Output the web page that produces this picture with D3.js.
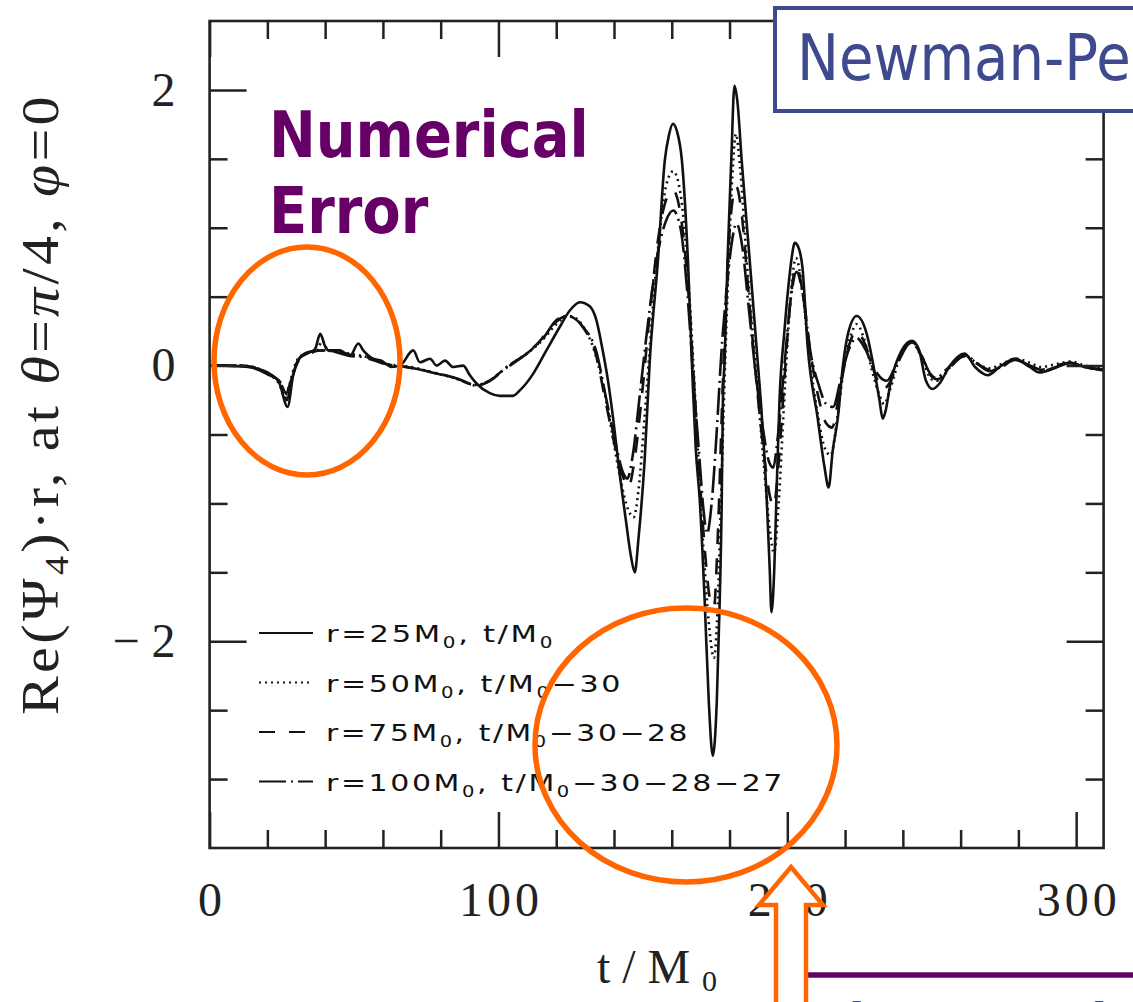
<!DOCTYPE html>
<html lang="en">
<head>
    <meta charset="utf-8">
    <title>Re(Psi4) waveform</title>
    <script src="https://cdn.jsdelivr.net/npm/d3@7"></script>
    <style>
      body { margin: 0; background: #fff; }
      .curve { fill: none; stroke: #111; stroke-width: 2.6px; }
      .tick line { stroke: #222; stroke-width: 2.5px; }
      .ticklab text { font-family: "Liberation Serif", serif; font-size: 48px; fill: #222; letter-spacing: 4px; }
      .legend text { font-family: "DejaVu Sans", sans-serif; font-size: 23px; fill: #111; letter-spacing: 2px; }
    </style>
</head>
<body>
<svg width="1133" height="1002"></svg>

<script>
// t/M0 and Re(Psi4)*r, one array per extraction radius
var r25 = [[0,0],[5,0],[10,-0.005],[15,-0.015],[20,-0.05],[24,-0.12],[27,-0.30],[29,-0.06],[31,0.05],[34,0.09],[36.5,0.12],[38.3,0.23],[40,0.14],[41.1,0.11],[45,0.11],[48.6,0.07],[51.5,0.16],[53.2,0.11],[56.6,0.05],[59.5,0.036],[63,-0.01],[65.9,0],[70.5,0.11],[72.8,0.024],[76.3,0.05],[78.6,0],[81.5,0.036],[84.3,-0.01],[87.8,0],[90.1,-0.07],[92.4,-0.13],[97,-0.2],[100.5,-0.22],[105,-0.22],[107.4,-0.18],[112,-0.06],[116.6,0.11],[121.2,0.28],[124.7,0.40],[128.2,0.46],[131.6,0.43],[133.9,0.33],[136,0.12],[138,-0.12],[139.8,-0.4],[141.7,-0.74],[144.1,-1.12],[146,-1.4],[147.2,-1.5],[148.5,-1.25],[150.6,-0.69],[152.4,0.04],[155.2,0.76],[157.6,1.49],[159,1.67],[160.4,1.755],[161.8,1.7],[163.5,1.49],[165.6,0.76],[167.2,-0.1],[168.3,-0.6],[169.7,-0.98],[171.4,-1.71],[172.8,-2.43],[174.2,-2.83],[175.6,-2.43],[176.6,-1.71],[177.3,-0.98],[177.7,-0.25],[178.3,0.04],[179.3,0.76],[180.6,1.49],[181.7,2.03],[182.7,1.92],[184.2,1.49],[187,0.76],[189.7,0.04],[190.8,-0.25],[192.9,-0.98],[193.9,-1.47],[194.5,-1.79],[195.5,-1.47],[196.2,-0.98],[197.3,-0.25],[199,0.25],[200.5,0.6],[201.5,0.78],[202.6,0.89],[203.8,0.86],[205.3,0.7],[207,0.15],[210.5,-0.38],[212.9,-0.74],[214.3,-0.885],[215.7,-0.62],[217.5,-0.38],[219.2,-0.01],[221,0.23],[224,0.36],[227.5,0.23],[229.9,-0.01],[231.9,-0.25],[233,-0.385],[234,-0.33],[235.7,-0.13],[239.6,0.11],[243.1,0.18],[245.5,0.12],[248,-0.11],[250.3,-0.17],[252.7,-0.13],[256,-0.01],[261.4,0.087],[265,-0.01],[269.4,-0.07],[273.5,-0.01],[278.7,0.05],[283.9,-0.01],[287.3,-0.05],[292.5,-0.02],[297.7,0.02],[302.9,-0.01],[309.5,-0.035]];

var r50 = [[0,0],[10,0],[15,-0.01],[20,-0.06],[24,-0.13],[26,-0.22],[27.5,-0.15],[29,-0.03],[31,0.06],[34,0.09],[37,0.1],[39,0.18],[41,0.11],[45,0.1],[50,0.08],[55,0.06],[60,0.02],[65,0.0],[70,-0.01],[77,-0.05],[85,-0.09],[92,-0.14],[96,-0.12],[100,-0.06],[105,0.02],[110,0.09],[115,0.18],[120,0.3],[124,0.36],[127,0.34],[130,0.26],[133,0.12],[136,-0.12],[139,-0.45],[142,-0.8],[145,-1.05],[146.8,-1.1],[148.5,-0.9],[150.5,-0.4],[153,0.3],[155.5,0.9],[158,1.3],[160.5,1.41],[163,1.25],[165.5,0.7],[167.5,0.0],[169.5,-0.8],[171.5,-1.5],[173.2,-1.95],[174.6,-2.12],[175.8,-1.8],[177,-1.0],[178.3,-0.1],[179.6,0.7],[180.9,1.35],[182.2,1.68],[183.6,1.45],[186,0.75],[189,0.0],[191.8,-0.7],[194,-1.2],[195.4,-1.36],[197,-1.0],[198.8,-0.3],[200.8,0.4],[203,0.78],[205.2,0.55],[207.5,0.1],[210.5,-0.35],[213,-0.6],[215,-0.65],[217.5,-0.35],[220,0.05],[222,0.22],[224,0.3],[226.5,0.2],[229.5,-0.05],[232,-0.22],[233.5,-0.28],[235.5,-0.18],[239,0.06],[243,0.17],[246.5,0.06],[250,-0.1],[252.5,-0.11],[256,-0.02],[261.5,0.07],[265.5,0.02],[270,-0.02],[275,0.02],[279,0.05],[284,0.02],[288,-0.01],[293,0.01],[298,0.03],[303,0.0],[309.5,-0.02]];

var r75 = [[0,0],[10,0],[15,-0.01],[20,-0.06],[24.5,-0.12],[26.8,-0.25],[28.5,-0.1],[30,0.0],[32,0.07],[35,0.1],[40,0.11],[45,0.1],[50,0.07],[55,0.05],[61,0.01],[68,-0.01],[77,-0.05],[86,-0.1],[92,-0.14],[97,-0.11],[102,-0.03],[108,0.06],[114,0.17],[119,0.3],[123,0.355],[126.5,0.34],[129.5,0.27],[133.5,0.1],[137,-0.25],[140.5,-0.6],[143,-0.8],[145,-0.88],[147,-0.7],[149.5,-0.25],[152.5,0.4],[155.5,0.95],[158,1.2],[160.5,1.27],[163,1.1],[165.5,0.6],[167.5,-0.05],[169.5,-0.75],[171.5,-1.35],[173.3,-1.7],[174.6,-1.75],[176,-1.2],[177.4,-0.3],[178.8,0.5],[180.3,1.05],[182.3,1.3],[184.2,1.1],[186.5,0.55],[189,-0.05],[191.7,-0.6],[194,-0.95],[195.3,-1.02],[197,-0.7],[199,-0.1],[201,0.45],[203.2,0.72],[205.4,0.52],[208,0.1],[211,-0.25],[213.5,-0.42],[215.5,-0.45],[218,-0.2],[221,0.12],[224,0.25],[227,0.15],[230,-0.04],[233.2,-0.17],[235,-0.14],[238.5,0.03],[243,0.17],[246.5,0.07],[250,-0.08],[252,-0.1],[256,-0.02],[261.5,0.07],[266,0.01],[270,-0.03],[275,0.0],[279,0.05],[284,0.0],[288,-0.03],[293,0.0],[298,0.02],[303,-0.01],[309.5,-0.03]];

var r100 = [[0,0],[10,0],[14,-0.01],[19.8,-0.06],[24.4,-0.12],[26.5,-0.2],[28,-0.12],[29.5,-0.02],[31.3,0.06],[34.7,0.1],[40.5,0.11],[48.6,0.07],[54.4,0.06],[61.3,0.01],[68.2,-0.01],[77.4,-0.05],[86.6,-0.1],[92.4,-0.145],[97,-0.11],[102.8,-0.01],[109.7,0.085],[115.5,0.2],[120.1,0.33],[123.6,0.36],[126.5,0.34],[129.3,0.28],[133.9,0.1],[137.4,-0.25],[140.9,-0.6],[143.2,-0.78],[144.6,-0.82],[146.5,-0.65],[149,-0.2],[152,0.35],[155,0.8],[158,1.05],[160.5,1.125],[163,1.0],[165.5,0.5],[167.5,-0.1],[169.5,-0.65],[171,-1.05],[172.2,-1.22],[173.8,-1.0],[175.5,-0.5],[177.2,0.1],[179,0.55],[180.5,0.85],[182.4,1.03],[184.5,0.85],[186.5,0.45],[189,-0.05],[191.5,-0.45],[193.7,-0.7],[195.1,-0.74],[196.8,-0.5],[199,0.0],[201,0.45],[203.2,0.68],[205.5,0.5],[208,0.1],[211,-0.15],[213.5,-0.28],[215.8,-0.3],[218.5,-0.1],[221,0.1],[224,0.2],[227,0.12],[230,-0.02],[233,-0.1],[234.5,-0.11],[237.5,0.0],[240.5,0.12],[243.3,0.17],[246.5,0.07],[249.5,-0.06],[251.5,-0.09],[255,-0.03],[260,0.06],[262,0.07],[266,0.01],[270,-0.04],[274,-0.01],[279,0.04],[284,0.0],[288,-0.04],[293,-0.01],[298,0.02],[303,-0.01],[309.5,-0.03]];

var xMajor = [0, 100, 200, 300];
var xMinor = [20, 40, 60, 80, 120, 140, 160, 180, 220, 240, 260, 280];
var yMajor = [-2, 0, 2];
var yMinor = [-3, -2.5, -1.5, -1, -0.5, 0.5, 1, 1.5];

var legendRadii = ["25", "50", "75", "100"];
var legendShift = ["", "\u221230", "\u221230\u221228", "\u221230\u221228\u221227"];
var dashes = [null, "2,4", "16,14", "27,5,2,5"];
var series = [r25, r50, r75, r100];

var svg = d3.select("svg");

var x = d3.scaleLinear().domain([0, 309.5]).range([209.6, 1103.6]);
var y = d3.scaleLinear().domain([-3.5, 2.5]).range([848, 21]);

var line = d3.line()
    .x(function(d) { return x(d[0]); })
    .y(function(d) { return y(d[1]); })
    .curve(d3.curveMonotoneX);

svg.append("g").selectAll("path")
  .data(series)
  .enter().append("path")
    .attr("class", "curve")
    .attr("d", line)
    .style("stroke-dasharray", function(d, i) { return dashes[i]; });

// axes: ticks point inward on all four sides
function tidy(g) { g.select(".domain").remove(); }

svg.append("g").attr("class", "ticklab")
    .attr("transform", "translate(0,848)")
    .call(d3.axisBottom(x).tickValues(xMajor).tickSizeInner(-36).tickSizeOuter(0).tickPadding(34).tickFormat(d3.format("d")))
    .call(tidy)
    .call(function(g) { g.selectAll("text").attr("dy", "0.71em").attr("dx", 2); });
svg.append("g").attr("transform", "translate(0,848)")
    .call(d3.axisBottom(x).tickValues(xMinor).tickSizeInner(-18).tickSizeOuter(0).tickFormat(""))
    .call(tidy);
svg.append("g").attr("transform", "translate(0,21)")
    .call(d3.axisTop(x).tickValues(xMajor).tickSizeInner(-36).tickSizeOuter(0).tickFormat(""))
    .call(tidy);
svg.append("g").attr("transform", "translate(0,21)")
    .call(d3.axisTop(x).tickValues(xMinor).tickSizeInner(-18).tickSizeOuter(0).tickFormat(""))
    .call(tidy);

svg.append("g").attr("class", "ticklab")
    .attr("transform", "translate(209.6,0)")
    .call(d3.axisLeft(y).tickValues(yMajor).tickSizeInner(-37).tickSizeOuter(0).tickPadding(22).tickFormat(d3.format("d")))
    .call(tidy)
    .call(function(g) { g.selectAll("text").style("letter-spacing", "12px"); });
svg.append("g").attr("transform", "translate(209.6,0)")
    .call(d3.axisLeft(y).tickValues(yMinor).tickSizeInner(-18).tickSizeOuter(0).tickFormat(""))
    .call(tidy);
svg.append("g").attr("transform", "translate(1103.6,0)")
    .call(d3.axisRight(y).tickValues(yMajor).tickSizeInner(-37).tickSizeOuter(0).tickFormat(""))
    .call(tidy);
svg.append("g").attr("transform", "translate(1103.6,0)")
    .call(d3.axisRight(y).tickValues(yMinor).tickSizeInner(-18).tickSizeOuter(0).tickFormat(""))
    .call(tidy);

svg.append("rect")
    .attr("x", x(0)).attr("y", y(2.5))
    .attr("width", x(309.5) - x(0)).attr("height", y(-3.5) - y(2.5))
    .style("fill", "none").style("stroke", "#222").style("stroke-width", 2.6);

// axis titles
var xt = svg.append("text")
    .attr("x", 657).attr("y", 983)
    .attr("text-anchor", "middle")
    .attr("textLength", 120).attr("lengthAdjust", "spacing")
    .style("font-family", "Liberation Serif, serif").style("font-size", "48px").style("fill", "#222");
xt.append("tspan").text("t/M");
xt.append("tspan").attr("dy", 8).style("font-size", "30px").text("0");

var yt = svg.append("text")
    .attr("transform", "translate(58,404) rotate(-90)")
    .attr("text-anchor", "middle")
    .attr("textLength", 622).attr("lengthAdjust", "spacingAndGlyphs")
    .style("font-family", "Liberation Serif, serif").style("font-size", "52px").style("fill", "#222")
    .style("letter-spacing", "3px");
yt.append("tspan").text("Re(\u03A8");
yt.append("tspan").attr("dy", 10).style("font-size", "34px").text("4");
yt.append("tspan").attr("dy", -10).text(")\u00B7r,  at  ");
yt.append("tspan").style("font-style", "italic").text("\u03B8");
yt.append("tspan").text("=");
yt.append("tspan").style("font-style", "italic").text("\u03C0");
yt.append("tspan").text("/4,  ");
yt.append("tspan").style("font-style", "italic").text("\u03C6");
yt.append("tspan").text("=0");

// legend
var legendLen = [229, 297, 364, 459];
var leg = svg.append("g").attr("class", "legend");
legendRadii.forEach(function(r, i) {
  var cy = 633 + i * 49.5;
  leg.append("line")
    .attr("x1", 259).attr("x2", 313).attr("y1", cy).attr("y2", cy)
    .style("stroke", "#111").style("stroke-width", 2.2)
    .style("stroke-dasharray", dashes[i]);
  var t = leg.append("text").attr("x", 326).attr("y", cy + 9)
    .attr("textLength", legendLen[i]).attr("lengthAdjust", "spacingAndGlyphs");
  t.append("tspan").text("r=" + r + "M");
  t.append("tspan").attr("dy", 6).style("font-size", "15px").text("0");
  t.append("tspan").attr("dy", -6).text(", t/M");
  t.append("tspan").attr("dy", 6).style("font-size", "15px").text("0");
  t.append("tspan").attr("dy", -6).text(legendShift[i]);
});

// slide annotations
var orange = "#ff6600";
svg.append("ellipse").attr("cx", 307).attr("cy", 361).attr("rx", 93).attr("ry", 114)
    .style("fill", "none").style("stroke", orange).style("stroke-width", 5.5);
svg.append("ellipse").attr("cx", 686).attr("cy", 745).attr("rx", 151).attr("ry", 137)
    .style("fill", "none").style("stroke", orange).style("stroke-width", 5.5);

var ne = svg.append("g").attr("transform", "translate(269,157) scale(0.874,1)")
    .style("font-family", "DejaVu Sans, sans-serif").style("font-weight", "bold")
    .style("font-size", "64px").style("fill", "#660066");
ne.append("text").attr("x", 0).attr("y", 0).text("Numerical");
ne.append("text").attr("x", 0).attr("y", 76).text("Error");

svg.append("rect").attr("x", 775).attr("y", 8).attr("width", 420).attr("height", 103)
    .style("fill", "#fff").style("stroke", "#3f4a8e").style("stroke-width", 4);
svg.append("text").attr("transform", "translate(797,80) scale(0.877,1)")
    .style("font-family", "DejaVu Sans, sans-serif").style("font-size", "64px").style("fill", "#3f4a8e")
    .text("Newman-Penrose");

svg.append("rect").attr("x", 791).attr("y", 975).attr("width", 400).attr("height", 100)
    .style("fill", "#fff").style("stroke", "#660066").style("stroke-width", 5.5);
svg.append("text").attr("x", 815).attr("y", 1036)
    .style("font-family", "DejaVu Sans, sans-serif").style("font-weight", "bold")
    .style("font-size", "46px").style("fill", "#3f4a8e")
    .text("Plunge and merger");

var ax = 791;
svg.append("path")
    .attr("d", d3.line()([[ax - 15, 1010], [ax - 15, 905], [ax - 32, 905], [ax, 867], [ax + 32, 905], [ax + 15, 905], [ax + 15, 1010]]))
    .style("fill", "#fff").style("stroke", orange).style("stroke-width", 4.5)
    .style("stroke-linejoin", "miter");
</script>

</body>
</html>
